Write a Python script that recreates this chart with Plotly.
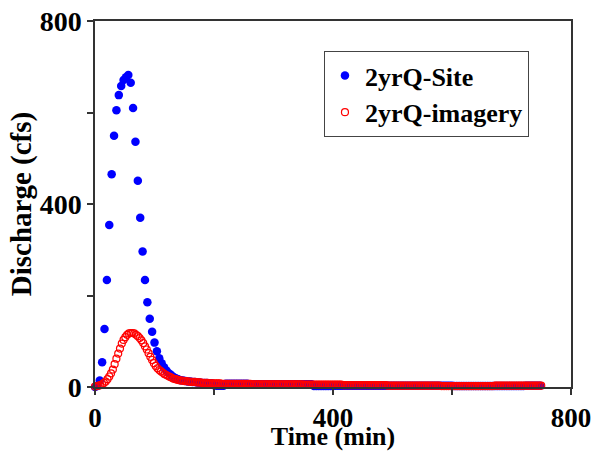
import numpy as np
import plotly.graph_objects as go

# ---- data ----
site_time = list(range(0, 752, 4))  # minutes
site_q = [
    0, 2, 14, 54, 127, 234, 354, 465, 549, 605, 638, 658, 671, 677, 682, 665,
    610, 536, 451, 370, 296, 234, 185, 149, 121, 97, 78, 63, 52, 43, 36, 30,
    26, 22, 19, 17,
    15, 14, 13, 12, 12, 11, 11, 10, 10, 9, 9, 9, 8, 8,
    4, 3, 3, 3, 3,
    7, 7, 7, 7, 7, 7, 7, 7, 7, 7, 6, 6, 6, 6, 6, 6, 6, 6, 6, 6,
    6, 6, 6, 6, 6, 6, 6, 6, 6, 6, 6, 6, 6, 6, 6, 6, 6,
    2, 2, 2, 2, 2, 2, 2, 2, 2,
    3, 3, 3, 3, 3, 3, 3, 3, 3, 3, 3, 3, 3, 3, 3, 3, 3, 3, 3, 3,
    3, 3, 3, 3, 3, 3, 3, 3, 3, 3, 3, 3, 3, 3, 3, 3, 3, 3, 3, 3,
    3, 3, 3, 3, 3, 3, 3, 3, 3, 3, 2, 2, 2, 2, 2, 2, 2, 2, 2, 2,
    2, 2, 2, 2, 2, 2, 2, 2, 2, 2, 2, 2, 2, 2, 2, 2, 2, 2, 2, 2,
    3, 3, 3, 3, 3, 3, 3,
]

img_time = list(range(0, 751, 3))  # minutes
img_q = [
    1, 2, 3, 4, 6, 9, 12, 17, 23, 30, 38, 50, 62, 73, 84, 95, 103, 109, 114, 117,
    118, 118, 117, 114, 111, 107, 102, 96, 89, 82, 74, 66, 59, 52, 46, 41, 37, 34, 31, 28,
    26, 24, 22, 20, 18, 17, 16, 15, 14, 14, 13, 13, 12, 12, 11, 11, 11, 10, 10, 10,
    9, 9, 9, 9, 8, 8, 8,
    8, 8, 8, 8, 7, 7, 7, 7, 7, 7, 7, 7, 7, 7, 7, 7, 7, 7, 7, 7,
    7, 6, 6, 6, 6, 6, 6, 6, 6, 6, 6, 6, 6, 6, 6, 6, 6, 6, 6, 6,
    6, 6, 6, 6, 6, 6, 6, 6, 6, 6, 5, 5, 5, 5, 5, 5, 5, 5, 5, 5,
    5, 5, 5, 5, 5, 5, 5,
    5, 5, 5, 5, 5, 4, 4, 4, 4, 4, 4, 4, 4, 4, 4, 4, 4, 4, 4, 4,
    4, 4, 4, 4, 4, 4, 4, 4, 4, 4, 3, 3, 3, 3, 3, 3, 3, 3, 3, 3,
    3, 3, 3, 3, 3, 3, 3, 3, 3, 3, 3, 3, 3, 3, 3, 3, 3, 3, 3, 3,
    2, 2, 2, 2, 2, 2, 2, 2, 2, 2, 2, 2, 2, 2, 2, 2, 2, 2, 2, 2,
    2, 2, 2, 2, 2, 2, 2, 2, 2, 2, 3, 3, 3, 3, 3, 3, 3, 3, 3, 3,
    3, 3, 3, 3, 3, 3, 3, 3, 3, 3, 3, 3, 3, 3, 3, 3, 3,
]

x_ticks = [0, 200, 400, 600, 800]
x_labels = ["0", "", "400", "", "800"]
y_ticks = [0, 200, 400, 600, 800]
y_labels = ["0", "", "400", "", "800"]

n = min(len(site_time), len(site_q))
m = min(len(img_time), len(img_q))

FONT = "Liberation Serif"

fig = go.Figure()
fig.add_trace(go.Scatter(
    x=site_time[:n], y=site_q[:n], mode="markers", name="2yrQ-Site",
    marker=dict(symbol="circle", size=8.5, color="#0000FF", line=dict(width=0)),
    cliponaxis=False,
))
fig.add_trace(go.Scatter(
    x=img_time[:m], y=img_q[:m], mode="markers", name="2yrQ-imagery",
    marker=dict(symbol="circle-open", size=7, color="#FF0000", line=dict(width=1.2)),
    cliponaxis=False,
))

axis_common = dict(
    showgrid=False, zeroline=False, showline=True, mirror=True,
    linecolor="#333333", linewidth=1.5, ticks="outside", ticklen=6,
    tickwidth=1.5, tickcolor="#333333", automargin=False,
    ticklabeloverflow="allow",
)

fig.update_layout(
    width=598, height=451,
    margin=dict(l=95, r=27, t=21, b=64),
    paper_bgcolor="white", plot_bgcolor="white",
    font=dict(family=FONT, color="black"),
    showlegend=True,
    legend=dict(
        x=0.481, y=0.918, xanchor="left", yanchor="top",
        bordercolor="#444444", borderwidth=1, bgcolor="white",
        font=dict(family=FONT, size=26, color="black", weight="bold"),
        itemwidth=30,
    ),
    xaxis=dict(
        range=[0, 800], tickvals=x_ticks, ticktext=x_labels,
        tickfont=dict(family=FONT, size=27, color="black", weight="bold"),
        title=dict(text="Time (min)",
                   font=dict(family=FONT, size=26, color="black", weight="bold")),
        **axis_common,
    ),
    yaxis=dict(
        range=[0, 800], tickvals=y_ticks, ticktext=y_labels,
        tickfont=dict(family=FONT, size=28, color="black", weight="bold"),
        title=dict(text="Discharge (cfs)", standoff=0,
                   font=dict(family=FONT, size=29, color="black", weight="bold")),
        **axis_common,
    ),
)

# remove the default page margin so the figure fills the 598x451 window
fig.write_html(
    "out.html",
    config={"displayModeBar": False},
    post_script="document.body.style.margin='0';",
)
